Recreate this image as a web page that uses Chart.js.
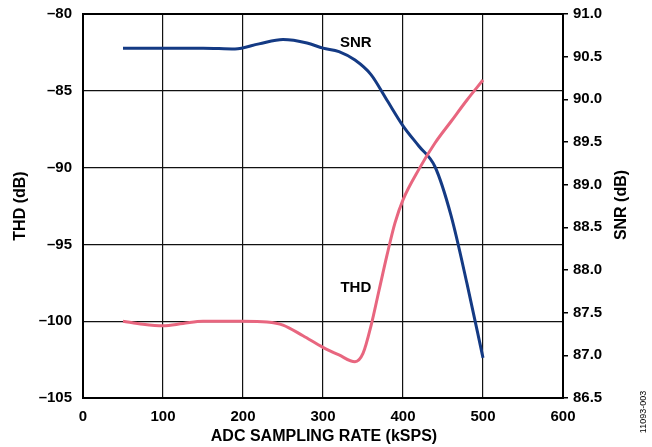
<!DOCTYPE html>
<html lang="en">
<head>
  <meta charset="UTF-8" />
  <title>THD and SNR vs ADC Sampling Rate</title>
  <script src="https://cdn.jsdelivr.net/npm/chart.js"></script>
  <style>
    body {
      margin: 0;
      background: #fff;
    }
    #wrap {
      width: 652px;
      height: 447px;
    }
  </style>
</head>
<body>
  <div id="wrap"><canvas id="chart" width="652" height="447"></canvas></div>

  <script>
    // values
    const thdRate = [50, 75, 100, 125, 150, 200, 230, 250, 275, 300, 320, 340, 350, 360, 370, 380, 390, 400, 420, 440, 460, 480, 500];
    const thdDb = [-100.0, -100.2, -100.3, -100.15, -100.0, -100.0, -100.05, -100.25, -100.95, -101.7, -102.2, -102.64, -102.1, -100.3, -98.0, -95.7, -93.6, -92.1, -90.1, -88.4, -87.0, -85.6, -84.3];

    const snrRate = [50, 100, 150, 190, 220, 250, 280, 300, 320, 340, 360, 380, 400, 420, 440, 460, 480, 500];
    const snrDb = [90.60, 90.60, 90.60, 90.59, 90.65, 90.70, 90.66, 90.60, 90.56, 90.46, 90.29, 89.99, 89.69, 89.45, 89.21, 88.64, 87.84, 86.97];

    const xTicks = [0, 100, 200, 300, 400, 500, 600];
    const thdTicks = [-105, -100, -95, -90, -85, -80];
    const snrTicks = [86.5, 87.0, 87.5, 88.0, 88.5, 89.0, 89.5, 90.0, 90.5, 91.0];

    const FONT = "'Liberation Sans', Arial, sans-serif";
    const tickFont = { family: FONT, size: 15, weight: 'bold' };

    const toPoints = (xs, ys) => xs.map((x, i) => ({ x: x, y: ys[i] }));

    // keep the plot box fixed: no extra room for half labels at the ends
    function fixVertical(s, w) {
      s.width = w;
      s.paddingTop = 0;
      s.paddingBottom = 0;
    }

    // titles, curve labels, plot frame and figure number
    const decorations = {
      id: 'decorations',
      beforeDatasetsDraw(chart) {
        const { ctx, chartArea: a } = chart;
        ctx.save();
        ctx.strokeStyle = '#000';
        ctx.lineWidth = 2;
        ctx.strokeRect(a.left, a.top, a.right - a.left, a.bottom - a.top);
        ctx.restore();
      },
      afterDraw(chart) {
        const { ctx, scales } = chart;
        ctx.save();
        ctx.fillStyle = '#000';
        ctx.textAlign = 'center';
        ctx.textBaseline = 'middle';
        ctx.font = 'bold 16px ' + FONT;

        ctx.fillText('ADC SAMPLING RATE (kSPS)', 324, 437);

        ctx.save();
        ctx.translate(21, 206);
        ctx.rotate(-Math.PI / 2);
        ctx.fillText('THD (dB)', 0, 0);
        ctx.restore();

        ctx.save();
        ctx.translate(622, 205);
        ctx.rotate(-Math.PI / 2);
        ctx.fillText('SNR (dB)', 0, 0);
        ctx.restore();

        ctx.font = 'bold 15px ' + FONT;
        ctx.fillText('SNR', scales.x.getPixelForValue(341), scales.ySnr.getPixelForValue(90.66));
        ctx.fillText('THD', scales.x.getPixelForValue(341), scales.yThd.getPixelForValue(-97.8));

        ctx.font = '9px ' + FONT;
        ctx.save();
        ctx.translate(644, 412);
        ctx.rotate(-Math.PI / 2);
        ctx.fillText('11093-003', 0, 0);
        ctx.restore();

        ctx.restore();
      }
    };

    new Chart(document.getElementById('chart'), {
      type: 'line',
      data: {
        datasets: [
          {
            label: 'THD',
            data: toPoints(thdRate, thdDb),
            yAxisID: 'yThd',
            borderColor: '#e8667f',
            borderWidth: 3,
            pointRadius: 0,
            cubicInterpolationMode: 'monotone',
            fill: false
          },
          {
            label: 'SNR',
            data: toPoints(snrRate, snrDb),
            yAxisID: 'ySnr',
            borderColor: '#143a84',
            borderWidth: 3,
            pointRadius: 0,
            cubicInterpolationMode: 'monotone',
            fill: false
          }
        ]
      },
      options: {
        responsive: false,
        animation: false,
        layout: { padding: { top: 14, left: 0, right: 0, bottom: 0 } },
        plugins: {
          legend: { display: false },
          tooltip: { enabled: false }
        },
        scales: {
          x: {
            type: 'linear',
            min: 0,
            max: 600,
            afterBuildTicks: s => { s.ticks = xTicks.map(v => ({ value: v })); },
            afterFit: s => { s.height = 49; s.paddingLeft = 0; s.paddingRight = 0; },
            grid: { color: '#111', lineWidth: 1.2, drawTicks: false },
            border: { display: false },
            ticks: {
              padding: 10,
              color: '#000',
              font: tickFont
            }
          },
          yThd: {
            position: 'left',
            min: -105,
            max: -80,
            afterBuildTicks: s => { s.ticks = thdTicks.map(v => ({ value: v })); },
            afterFit: s => fixVertical(s, 83),
            grid: { color: '#111', lineWidth: 1.2, drawTicks: false },
            border: { display: false },
            ticks: {
              padding: 11,
              color: '#000',
              font: tickFont,
              callback: v => (v < 0 ? '\u2013' + Math.abs(v) : String(v))
            }
          },
          ySnr: {
            position: 'right',
            min: 86.5,
            max: 91.0,
            afterBuildTicks: s => { s.ticks = snrTicks.map(v => ({ value: v })); },
            afterFit: s => fixVertical(s, 89),
            grid: { drawOnChartArea: false, color: '#000', lineWidth: 1.5, tickLength: 5 },
            border: { display: false },
            ticks: {
              padding: 5,
              color: '#000',
              font: tickFont,
              callback: v => v.toFixed(1)
            }
          }
        }
      },
      plugins: [decorations]
    });
  </script>
</body>
</html>
